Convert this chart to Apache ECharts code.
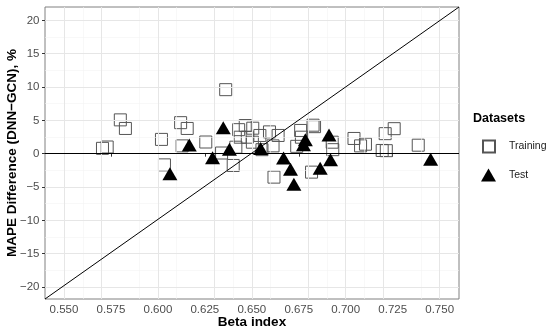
<!DOCTYPE html>
<html><head><meta charset="utf-8">
<script src="https://cdn.jsdelivr.net/npm/echarts@6/dist/echarts.min.js"></script>
<style>html,body{margin:0;padding:0;background:#fff}#c{width:550px;height:333px}</style>
</head><body><div id="c"></div>
<script>
// ---- data ----
const trainBeta = [0.5705,0.5730,0.5800,0.5827,0.6019,0.6035,0.6121,0.6156,0.6129,0.6255,0.6339,0.6361,0.6401,0.6415,0.6430,0.6465,0.6505,0.6438,0.6476,0.6503,0.6543,0.6554,0.6594,0.6613,0.6618,0.6640,0.6760,0.6764,0.6739,0.6826,0.6834,0.6928,0.6931,0.6818,0.7044,0.7079,0.7105,0.7210,0.7258,0.7194,0.7216,0.7386];
const trainDiff = [0.80,1.00,5.07,3.78,2.14,-1.68,4.65,3.78,1.17,1.75,0.10,9.60,-1.77,0.97,3.60,4.22,3.82,2.47,2.47,1.72,2.73,0.60,3.27,1.17,-3.52,2.73,3.48,2.47,1.10,4.27,4.05,1.72,0.60,-2.77,2.28,1.17,1.42,3.00,3.75,0.48,0.45,1.27];
const testBeta = [0.6064,0.6167,0.6291,0.6348,0.6381,0.6547,0.6669,0.6706,0.6724,0.6775,0.6785,0.6864,0.6911,0.6919,0.7452];
const testDiff = [-3.33,0.97,-0.96,3.57,0.32,0.45,-0.97,-2.68,-4.93,1.02,1.77,-2.53,2.47,-1.23,-1.15];
const xTicks = [0.55,0.575,0.6,0.625,0.65,0.675,0.7,0.725,0.75];
const xMinor = [0.5625,0.5875,0.6125,0.6375,0.6625,0.6875,0.7125,0.7375];
const yTicks = [-20,-15,-10,-5,0,5,10,15,20];
const yMinor = [-17.5,-12.5,-7.5,-2.5,2.5,7.5,12.5,17.5];
const xLimits = [0.5399, 0.7603];
const yLimits = [-21.8, 22.0];
const refLineX = [0.5399, 0.7603];
const refLineY = [-21.8, 22.0];
const zeroLine = 0;

const FONT = '"Liberation Sans", Arial, sans-serif';
const chart = echarts.init(document.getElementById('c'), null, {renderer:'canvas'});
const gridLines = []
  .concat(xMinor.map(v => ({xAxis: v, lineStyle: {color: '#f3f3f3', width: 0.6, type: 'solid'}})))
  .concat(yMinor.map(v => ({yAxis: v, lineStyle: {color: '#f3f3f3', width: 0.6, type: 'solid'}})))
  .concat(xTicks.map(v => ({xAxis: v, lineStyle: {color: '#e6e6e6', width: 1, type: 'solid'}})))
  .concat(yTicks.map(v => ({yAxis: v, lineStyle: {color: '#e6e6e6', width: 1, type: 'solid'}})));

const fmtNum = (v, d) => (d ? v.toFixed(d) : String(v)).replace('-', '\u2212');

chart.setOption({
  animation: false,
  backgroundColor: '#fff',
  textStyle: {fontFamily: FONT},
  grid: {left: 45, top: 7, right: 91, bottom: 34, containLabel: false, outerBoundsMode: 'none',
    show: true, borderColor: '#808080', borderWidth: 1, backgroundColor: 'transparent'},
  title: {text: 'Datasets', left: 473, top: 112, padding: 0,
    textStyle: {fontFamily: FONT, fontSize: 12.5, fontWeight: 'bold', color: '#000'}},
  legend: [
    {data: [{name: 'Training', icon: 'rect'}], orient: 'vertical', left: 482, top: 139.5, padding: 0,
     itemWidth: 12, itemHeight: 12,
     textStyle: {fontFamily: FONT, fontSize: 10.5, color: '#1a1a1a', padding: [0, 0, 0, 9]}},
    {data: [{name: 'Test', icon: 'triangle'}], orient: 'vertical', left: 481, top: 168.5, padding: 0,
     itemWidth: 15, itemHeight: 13,
     textStyle: {fontFamily: FONT, fontSize: 10.5, color: '#1a1a1a', padding: [0, 0, 0, 8]}}
  ],
  xAxis: {
    type: 'value', min: xLimits[0], max: xLimits[1],
    name: 'Beta index', nameLocation: 'middle', nameGap: 16, nameMoveOverlap: false,
    nameTextStyle: {fontFamily: FONT, fontSize: 13.5, fontWeight: 'bold', color: '#000'},
    axisLine: {show: false},
    axisTick: {show: true, customValues: xTicks, length: 3, lineStyle: {color: '#333'}},
    axisLabel: {customValues: xTicks, margin: 5, fontSize: 11.5, color: '#4d4d4d', fontFamily: FONT,
      formatter: v => fmtNum(v, 3)},
    splitLine: {show: false}
  },
  yAxis: {
    type: 'value', min: yLimits[0], max: yLimits[1],
    name: 'MAPE Difference (DNN\u2212GCN), %', nameLocation: 'middle', nameGap: 26, nameMoveOverlap: false,
    nameTextStyle: {fontFamily: FONT, fontSize: 13.5, fontWeight: 'bold', color: '#000'},
    axisLine: {show: false},
    axisTick: {show: true, customValues: yTicks, length: 3, lineStyle: {color: '#333'}},
    axisLabel: {customValues: yTicks, margin: 5.5, fontSize: 11.5, color: '#4d4d4d', fontFamily: FONT,
      formatter: v => fmtNum(v, 0)},
    splitLine: {show: false}
  },
  series: [
    {type: 'scatter', name: 'gridlines', data: [], z: 1, silent: true,
     markLine: {silent: true, symbol: 'none', label: {show: false}, animation: false, data: gridLines}},
    {type: 'scatter', name: 'ref', data: [], z: 3, silent: true,
     markLine: {silent: true, symbol: 'none', label: {show: false}, animation: false,
       data: [
         {yAxis: zeroLine, lineStyle: {color: '#000', width: 1.2, type: 'solid', opacity: 1}},
         [{coord: [refLineX[0], refLineY[0]], lineStyle: {color: '#000', width: 1, type: 'solid', opacity: 1}},
          {coord: [refLineX[1], refLineY[1]]}]
       ]}},
    {type: 'scatter', name: 'Training', z: 4, symbol: 'rect', symbolSize: 12,
     data: trainBeta.map((x, i) => [x, trainDiff[i]]),
     itemStyle: {color: 'rgba(0,0,0,0)', borderColor: '#555', borderWidth: 1, opacity: 1}},
    {type: 'scatter', name: 'Test', z: 5, symbol: 'triangle', symbolSize: [15, 13], symbolOffset: [0, -2.2],
     data: testBeta.map((x, i) => [x, testDiff[i]]),
     itemStyle: {color: '#000', opacity: 1}}
  ]
});
</script></body></html>
